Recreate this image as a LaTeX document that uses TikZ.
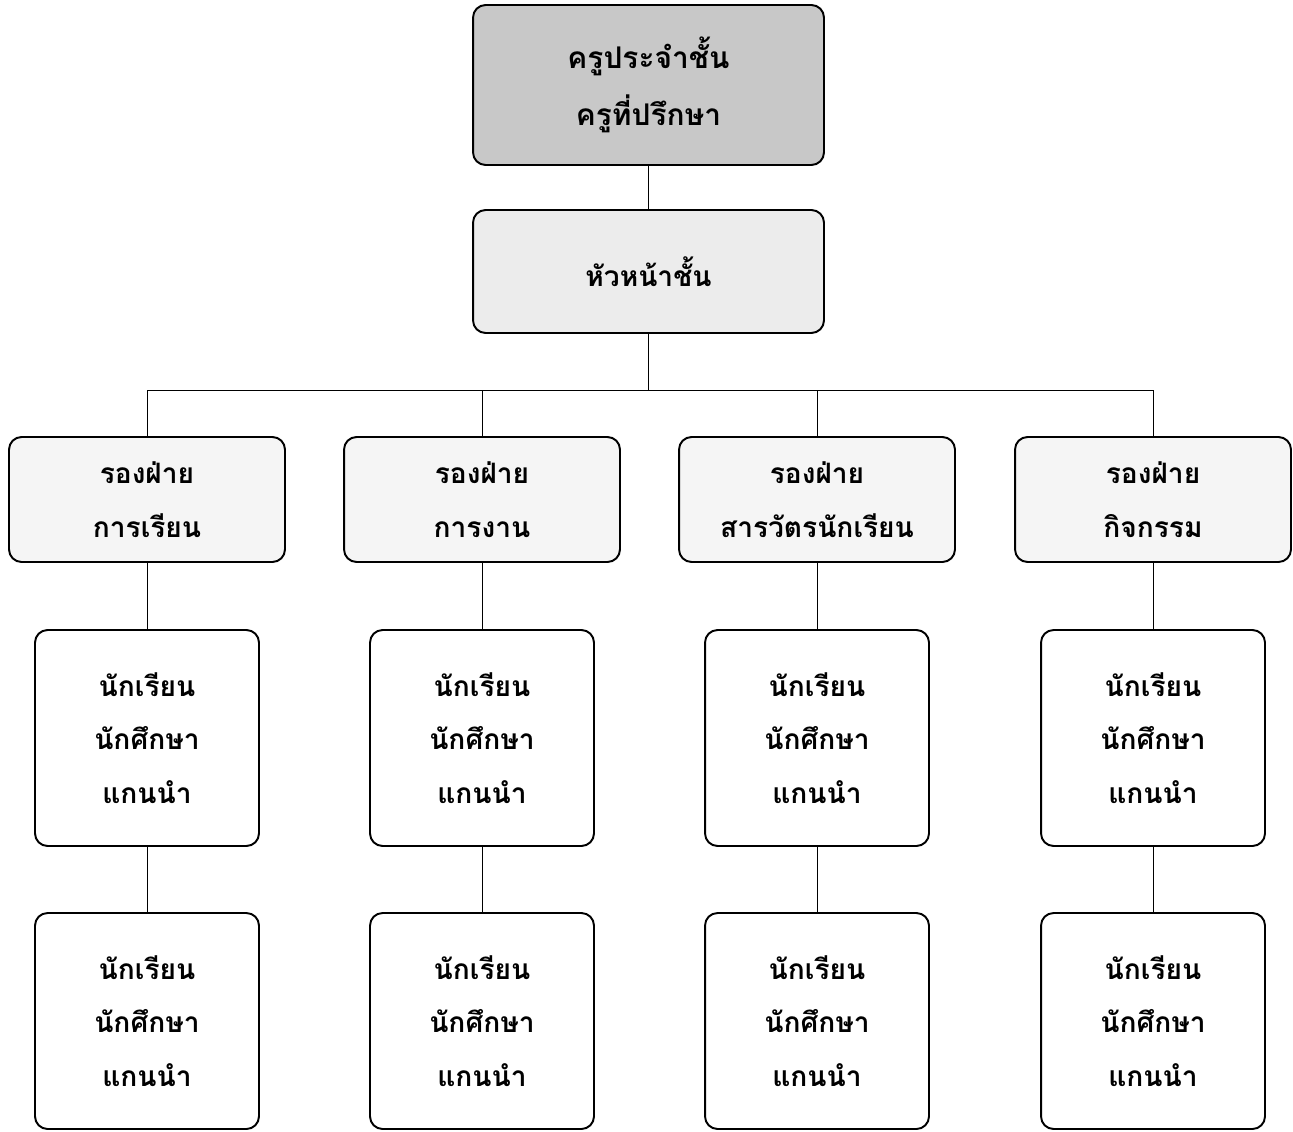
\documentclass[tikz,border=0pt]{standalone}
\usepackage{fontspec}
\newfontfamily\thaifont[Script=Thai]{Loma}
\usetikzlibrary{positioning}

\definecolor{headFill}{HTML}{C8C8C8}
\definecolor{leadFill}{HTML}{ECECEC}
\definecolor{deputyFill}{HTML}{F5F5F5}

\tikzset{
  box/.style={draw=black, line width=1.1pt, rounded corners=0.25cm, align=center,
    inner sep=0pt, font=\thaifont\bfseries\fontsize{16}{30.5}\selectfont},
  headBox/.style={box, fill=headFill, minimum width=7.02cm, minimum height=3.2cm,
    font=\thaifont\bfseries\fontsize{17}{32.5}\selectfont},
  leadBox/.style={box, fill=leadFill, minimum width=7.02cm, minimum height=2.46cm},
  deputyBox/.style={box, fill=deputyFill, minimum width=5.52cm, minimum height=2.5cm},
  memberBox/.style={box, fill=white, minimum width=4.48cm, minimum height=4.32cm},
  link/.style={draw=black, line width=0.55pt}
}

\begin{document}
\begin{tikzpicture}[x=0.02cm, y=-0.02cm]

    % page frame
    \useasboundingbox (0,0) rectangle (1293,1131);

    % top levels
    \node[headBox] (head) at (648.5,85) {ครูประจำชั้น\\ครูที่ปรึกษา};
    \node[leadBox] (lead) at (648.5,271.5) {หัวหน้าชั้น};

    % deputies
    \node[deputyBox] (depA) at (147,499.5) {รองฝ่าย\\การเรียน};
    \node[deputyBox] (depB) at (482,499.5) {รองฝ่าย\\การงาน};
    \node[deputyBox] (depC) at (817,499.5) {รองฝ่าย\\สารวัตรนักเรียน};
    \node[deputyBox] (depD) at (1153,499.5) {รองฝ่าย\\กิจกรรม};

    % student leaders, first row
    \node[memberBox] (memA1) at (147,738) {นักเรียน\\นักศึกษา\\แกนนำ};
    \node[memberBox] (memB1) at (482,738) {นักเรียน\\นักศึกษา\\แกนนำ};
    \node[memberBox] (memC1) at (817,738) {นักเรียน\\นักศึกษา\\แกนนำ};
    \node[memberBox] (memD1) at (1153,738) {นักเรียน\\นักศึกษา\\แกนนำ};

    % student leaders, second row
    \node[memberBox] (memA2) at (147,1021) {นักเรียน\\นักศึกษา\\แกนนำ};
    \node[memberBox] (memB2) at (482,1021) {นักเรียน\\นักศึกษา\\แกนนำ};
    \node[memberBox] (memC2) at (817,1021) {นักเรียน\\นักศึกษา\\แกนนำ};
    \node[memberBox] (memD2) at (1153,1021) {นักเรียน\\นักศึกษา\\แกนนำ};

    % connectors
    \coordinate (bus) at (648.5,390);
    \draw[link] (head) -- (lead);
    \draw[link] (lead) -- (bus);
    \draw[link] (bus) -| (depA.north);
    \draw[link] (bus) -| (depB.north);
    \draw[link] (bus) -| (depC.north);
    \draw[link] (bus) -| (depD.north);

    \draw[link] (depA) -- (memA1);
    \draw[link] (depB) -- (memB1);
    \draw[link] (depC) -- (memC1);
    \draw[link] (depD) -- (memD1);

    \draw[link] (memA1) -- (memA2);
    \draw[link] (memB1) -- (memB2);
    \draw[link] (memC1) -- (memC2);
    \draw[link] (memD1) -- (memD2);

\end{tikzpicture}
\end{document}
